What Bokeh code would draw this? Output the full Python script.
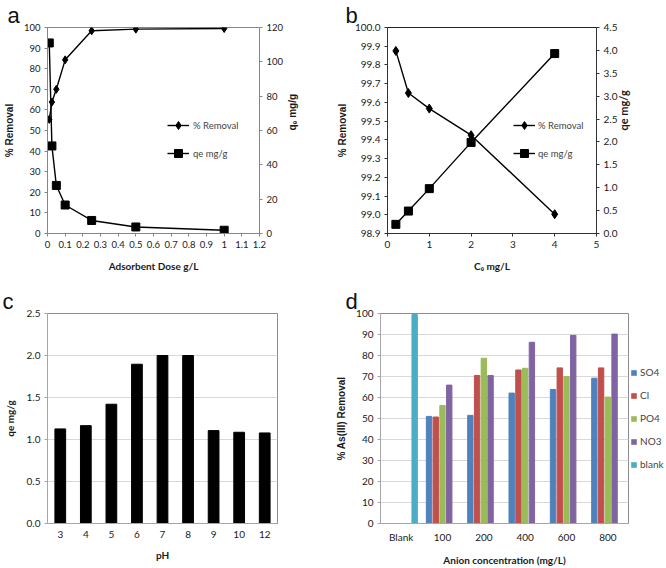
import math
from bokeh.plotting import figure
from bokeh.models import (Range1d, LinearAxis, FixedTicker, NumeralTickFormatter,
                          Legend, LegendItem, FactorRange, Title)
from bokeh.transform import dodge
from bokeh.layouts import row, column
from bokeh.embed import file_html
from bokeh.resources import INLINE

# ---------------- data ----------------
# (a) effect of adsorbent dose
dose = [0.01, 0.025, 0.05, 0.1, 0.25, 0.5, 1.0]
removal_a = [55.4, 63.8, 70.0, 84.3, 98.4, 99.2, 99.5]
qe_a = [111.0, 51.0, 28.0, 16.6, 7.6, 3.8, 1.9]
dose_ticks = [0, 0.1, 0.2, 0.3, 0.4, 0.5, 0.6, 0.7, 0.8, 0.9, 1.0, 1.1, 1.2]
removal_a_ticks = [0, 10, 20, 30, 40, 50, 60, 70, 80, 90, 100]
qe_a_ticks = [0, 20, 40, 60, 80, 100, 120]

# (b) effect of initial concentration
c0 = [0.2, 0.5, 1.0, 2.0, 4.0]
removal_b = [99.875, 99.65, 99.567, 99.425, 99.003]
qe_b = [0.2, 0.49, 0.98, 1.99, 3.93]
c0_ticks = [0, 1, 2, 3, 4, 5]
removal_b_ticks = [98.9, 99.0, 99.1, 99.2, 99.3, 99.4, 99.5, 99.6, 99.7, 99.8, 99.9, 100.0]
qe_b_ticks = [0.0, 0.5, 1.0, 1.5, 2.0, 2.5, 3.0, 3.5, 4.0, 4.5]

# (c) effect of pH
ph_labels = ["3", "4", "5", "6", "7", "8", "9", "10", "12"]
qe_c = [1.126, 1.165, 1.42, 1.896, 2.0, 2.0, 1.106, 1.086, 1.078]
qe_c_ticks = [0.0, 0.5, 1.0, 1.5, 2.0, 2.5]

# (d) effect of competing anions (None = no bar)
conc_labels = ["Blank", "100", "200", "400", "600", "800"]
so4 = [None, 51.0, 51.5, 62.1, 63.8, 69.2]
cl = [None, 50.7, 70.5, 73.1, 74.1, 74.1]
po4 = [None, 56.2, 78.7, 73.9, 70.0, 60.2]
no3 = [None, 65.9, 70.5, 86.3, 89.6, 90.2]
blank = [99.5, None, None, None, None, None]
series_names = ["SO4", "Cl", "PO4", "NO3", "blank"]
series_colors = ["#4F81BD", "#C0504D", "#9BBB59", "#8064A2", "#4BACC6"]
removal_d_ticks = [0, 10, 20, 30, 40, 50, 60, 70, 80, 90, 100]

TICK_FONT = "Lato"
TITLE_FONT = "Lato"
TXT = "#1a1a1a"


def style_axis(ax, size="10px", color="#868686", label_size="10px",
               label_font=TITLE_FONT):
    ax.major_label_text_font = TICK_FONT
    ax.major_label_text_font_size = size
    ax.major_label_text_color = TXT
    ax.axis_line_color = color
    ax.major_tick_line_color = color
    ax.minor_tick_line_color = None
    ax.major_tick_out = 3
    ax.major_tick_in = 0
    ax.axis_label_text_font = label_font
    ax.axis_label_text_font_size = label_size
    ax.axis_label_text_font_style = "bold"
    ax.axis_label_text_color = TXT
    ax.major_label_standoff = 4
    ax.axis_label_standoff = 6


def letter(p, txt, offset):
    p.add_layout(Title(text=txt, align="left", offset=offset, standoff=0,
                       text_font="Liberation Sans", text_font_size="22px",
                       text_font_style="normal", text_color="#111111"), "above")


# ---------------- (a) ----------------
pa = figure(width=333, height=280, x_range=Range1d(0, 1.2), y_range=Range1d(0, 100),
            output_backend="svg", toolbar_location=None,
            min_border_left=43, min_border_right=74, min_border_top=22, min_border_bottom=47)
pa.extra_y_ranges = {"qe": Range1d(0, 120)}
pa.grid.visible = False
pa.outline_line_color = "#868686"
pa.xaxis.ticker = FixedTicker(ticks=dose_ticks)
pa.xaxis.formatter = NumeralTickFormatter(format="0.[0]")
pa.yaxis.ticker = FixedTicker(ticks=removal_a_ticks)
pa.xaxis.axis_label = "Adsorbent Dose g/L"
pa.yaxis.axis_label = "% Removal"
ra = LinearAxis(y_range_name="qe", ticker=FixedTicker(ticks=qe_a_ticks), axis_label="qₑ mg/g")
pa.add_layout(ra, "right")
for ax in [pa.xaxis[0], pa.yaxis[0], ra]:
    style_axis(ax, size="9.5px")
pa.yaxis[0].axis_label_text_font = "Liberation Sans"
pa.xaxis[0].axis_label_standoff = 9
ra.axis_label_text_font = "Liberation Sans"
ra.axis_label_orientation = math.pi / 2

l1 = pa.line(dose, removal_a, line_color="black", line_width=1.4)
s1 = pa.scatter(dose, removal_a, marker="diamond", size=8, color="black")
l2 = pa.line(dose, qe_a, line_color="black", line_width=1.4, y_range_name="qe")
s2 = pa.scatter(dose, qe_a, marker="square", size=8, color="black", y_range_name="qe")
lega = Legend(items=[LegendItem(label="% Removal", renderers=[l1, s1]),
                     LegendItem(label="qe mg/g", renderers=[l2, s2])],
              location=(120, 70), background_fill_alpha=0, border_line_color=None,
              label_text_font=TICK_FONT, label_text_font_size="9.5px", glyph_width=22,
              spacing=8, padding=2, label_standoff=4)
pa.add_layout(lega)
letter(pa, "a", -40)

# ---------------- (b) ----------------
pb = figure(width=333, height=280, x_range=Range1d(0, 5), y_range=Range1d(98.9, 100.0),
            output_backend="svg", toolbar_location=None,
            min_border_left=44, min_border_right=70, min_border_top=22, min_border_bottom=47)
pb.extra_y_ranges = {"qe": Range1d(0, 4.5)}
pb.grid.visible = False
pb.outline_line_color = "#222222"
pb.xaxis.ticker = FixedTicker(ticks=c0_ticks)
pb.yaxis.ticker = FixedTicker(ticks=removal_b_ticks)
pb.yaxis.formatter = NumeralTickFormatter(format="0.0")
pb.xaxis.axis_label = "C₀ mg/L"
pb.yaxis.axis_label = "% Removal"
rb = LinearAxis(y_range_name="qe", ticker=FixedTicker(ticks=qe_b_ticks),
                formatter=NumeralTickFormatter(format="0.0"), axis_label="qe mg/g")
pb.add_layout(rb, "right")
for ax in [pb.xaxis[0], pb.yaxis[0], rb]:
    style_axis(ax, size="10px", color="#333333")
pb.yaxis[0].axis_label_text_font = "Liberation Sans"
pb.yaxis[0].axis_label_standoff = 4
pb.xaxis[0].axis_label_standoff = 9
rb.axis_label_orientation = math.pi / 2
rb.axis_label_text_font_size = "11px"
rb.axis_label_standoff = 3

m1 = pb.line(c0, removal_b, line_color="black", line_width=1.4)
n1 = pb.scatter(c0, removal_b, marker="diamond", size=9, color="black")
m2 = pb.line(c0, qe_b, line_color="black", line_width=1.4, y_range_name="qe")
n2 = pb.scatter(c0, qe_b, marker="square", size=8, color="black", y_range_name="qe")
legb = Legend(items=[LegendItem(label="% Removal", renderers=[m1, n1]),
                     LegendItem(label="qe mg/g", renderers=[m2, n2])],
              location=(126, 70), background_fill_alpha=0, border_line_color=None,
              label_text_font=TICK_FONT, label_text_font_size="9.5px", glyph_width=22,
              spacing=8, padding=0, margin=0, label_standoff=3)
pb.add_layout(legb)
letter(pb, "b", -42)

# ---------------- (c) ----------------
pc = figure(width=333, height=288, x_range=FactorRange(factors=ph_labels), y_range=Range1d(0, 2.5),
            output_backend="svg", toolbar_location=None,
            min_border_left=47, min_border_right=56, min_border_top=33, min_border_bottom=44)
pc.x_range.range_padding = 0
pc.xgrid.visible = False
pc.ygrid.grid_line_color = "#d9d9d9"
pc.yaxis.ticker = FixedTicker(ticks=qe_c_ticks)
pc.yaxis.formatter = NumeralTickFormatter(format="0.0")
pc.outline_line_color = "#8c8c8c"
pc.xaxis.axis_label = "pH"
pc.yaxis.axis_label = "qe mg/g"
style_axis(pc.xaxis[0], size="10px", color="#a6a6a6")
style_axis(pc.yaxis[0], size="10px", color="#a6a6a6")
pc.xaxis.major_tick_line_color = None
pc.xaxis.axis_label_standoff = 8
pc.yaxis.axis_label_standoff = 8
pc.vbar(x=ph_labels, top=qe_c, width=0.42, color="black")
letter(pc, "c", -45)

# ---------------- (d) ----------------
pdd = figure(width=297, height=288, x_range=FactorRange(factors=conc_labels), y_range=Range1d(0, 100),
             output_backend="svg", toolbar_location=None,
             min_border_left=37, min_border_right=2, min_border_top=33, min_border_bottom=44)
pdd.x_range.range_padding = 0
pdd.xgrid.visible = False
pdd.ygrid.grid_line_color = "#d9d9d9"
pdd.yaxis.ticker = FixedTicker(ticks=removal_d_ticks)
pdd.outline_line_color = "#8c8c8c"
pdd.xaxis.axis_label = "Anion concentration (mg/L)"
pdd.yaxis.axis_label = "% As(III) Removal"
style_axis(pdd.xaxis[0], size="10px", color="#a6a6a6")
style_axis(pdd.yaxis[0], size="10px", color="#a6a6a6")
pdd.yaxis[0].axis_label_text_font = "Liberation Sans"
pdd.xaxis.major_tick_line_color = None
pdd.xaxis.axis_label_standoff = 8

offsets = [-0.326, -0.163, 0.0, 0.163, 0.326]
vals = [so4, cl, po4, no3, blank]
for name, col, off, v in zip(series_names, series_colors, offsets, vals):
    xs = [c for c, t in zip(conc_labels, v) if t is not None]
    ts = [t for t in v if t is not None]
    pdd.vbar(x=dodge("x", off, range=pdd.x_range), top="top", width=0.13,
             color=col, source=dict(x=xs, top=ts))
letter(pdd, "d", -35)

# legend of (d) in its own narrow figure to the right (zero-size proxy glyphs)
pl = figure(width=36, height=288, x_range=Range1d(0, 1), y_range=Range1d(0, 1),
            output_backend="svg", toolbar_location=None,
            min_border_left=0, min_border_right=0, min_border_top=33, min_border_bottom=44)
pl.axis.visible = False
pl.grid.visible = False
pl.outline_line_color = None
items = []
for name, col in zip(series_names, series_colors):
    r = pl.vbar(x=[0.5], top=[0], bottom=[0], width=0, fill_color=col, line_color=None)
    items.append(LegendItem(label=name, renderers=[r]))
legd = Legend(items=items, location="center_left", background_fill_alpha=0,
              border_line_color=None, label_text_font=TICK_FONT,
              label_text_font_size="10px", glyph_width=7, glyph_height=7,
              spacing=11, padding=1, margin=0, label_standoff=3)
pl.add_layout(legd)

layout = column(row(pa, pb), row(pc, pdd, pl))
open("out.html", "w").write(file_html(layout, INLINE))
